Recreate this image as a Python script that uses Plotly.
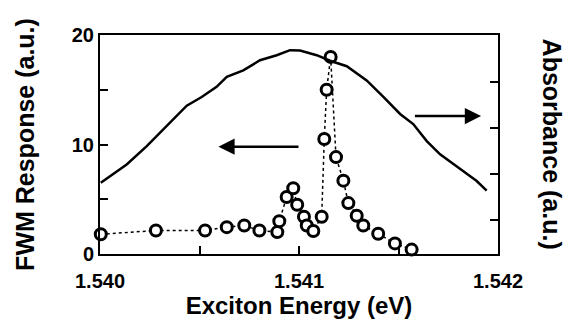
import plotly.graph_objects as go

# FWM response data (eV, a.u.)
fwm_energy = [1.540004, 1.540281, 1.540528, 1.540637, 1.540725, 1.540801, 1.540891,
              1.540901, 1.540938, 1.540971, 1.540991, 1.541025, 1.541039, 1.541072,
              1.541114, 1.541127, 1.541139, 1.541159, 1.541186, 1.541223, 1.541248,
              1.541290, 1.541323, 1.541398, 1.541482, 1.541566]
fwm_value = [1.8, 2.15, 2.15, 2.45, 2.6, 2.15, 2.0,
             3.0, 5.2, 6.0, 4.5, 3.4, 2.6, 2.1,
             3.4, 10.5, 15.0, 18.0, 8.85, 6.7, 4.65,
             3.5, 2.6, 1.85, 0.97, 0.4]

# Absorbance curve (eV, a.u.)
abs_energy = [1.540004, 1.540134, 1.540235, 1.540352, 1.540436, 1.540511, 1.540586,
              1.540637, 1.540720, 1.540804, 1.540888, 1.540955, 1.541005, 1.541089,
              1.541156, 1.541240, 1.541340, 1.541424, 1.541508, 1.541574, 1.541642,
              1.541709, 1.541759, 1.541826, 1.541893, 1.541943]
abs_value = [1.80, 2.20, 2.60, 3.12, 3.48, 3.67, 3.89,
             4.11, 4.25, 4.47, 4.58, 4.69, 4.68, 4.58,
             4.46, 4.34, 4.03, 3.67, 3.30, 3.08, 2.71,
             2.42, 2.27, 2.05, 1.84, 1.63]

x_tickvals = [1.540, 1.5405, 1.541, 1.5415, 1.542]
x_ticktext = ["1.540", "", "1.541", "", "1.542"]
y_tickvals = [0, 5, 10, 15, 20]
y_ticktext = ["0", "", "10", "", "20"]
y2_tickvals = [1, 2, 3, 4]

FONT = "Liberation Sans, Arial, sans-serif"

fig = go.Figure()
fig.add_trace(go.Scatter(
    x=abs_energy, y=abs_value, mode="lines", yaxis="y2",
    line=dict(color="black", width=2.5), showlegend=False))
fig.add_trace(go.Scatter(
    x=fwm_energy, y=fwm_value, mode="lines+markers",
    line=dict(color="black", width=1.5, dash="dot"),
    marker=dict(symbol="circle", size=11, color="white",
                line=dict(color="black", width=3)),
    showlegend=False, cliponaxis=False))

fig.update_layout(
    width=568, height=331,
    margin=dict(l=100, r=70, t=35, b=77),
    paper_bgcolor="white", plot_bgcolor="white",
    font=dict(family=FONT, color="black"),
    xaxis=dict(range=[1.540, 1.542], tickvals=x_tickvals, ticktext=x_ticktext,
               ticks="inside", ticklen=8, tickwidth=2, tickcolor="black",
               showline=True, linecolor="black", linewidth=2, mirror=True,
               showgrid=False, zeroline=False, ticklabelstandoff=8,
               tickfont=dict(size=20, family=FONT, weight="bold"),
               title=dict(text="<b>Exciton Energy (eV)</b>", font=dict(size=24), standoff=2)),
    yaxis=dict(range=[0, 20], tickvals=y_tickvals, ticktext=y_ticktext,
               ticks="inside", ticklen=8, tickwidth=2, tickcolor="black",
               showline=True, linecolor="black", linewidth=2,
               showgrid=False, zeroline=False,
               tickfont=dict(size=20, family=FONT, weight="bold"),
               title=dict(text="<b>FWM Response (a.u.)</b>", font=dict(size=25), standoff=30)),
    yaxis2=dict(range=[0.25, 5.02], tickvals=y2_tickvals, showticklabels=False,
                overlaying="y", side="right",
                ticks="inside", ticklen=8, tickwidth=2, tickcolor="black",
                showline=True, linecolor="black", linewidth=2,
                showgrid=False, zeroline=False),
)

# Right axis title reading top to bottom
fig.add_annotation(text="<b>Absorbance (a.u.)</b>", xref="paper", yref="paper",
                   x=1.138, y=0.5, xanchor="center", yanchor="middle",
                   textangle=90, showarrow=False,
                   font=dict(size=25, family=FONT, color="black"))

# Arrows
fig.add_annotation(x=1.540595, y=9.8, ax=1.541005, ay=9.8, xref="x", yref="y",
                   axref="x", ayref="y", text="", showarrow=True,
                   arrowhead=2, arrowsize=1.3, arrowwidth=2.5, arrowcolor="black")
fig.add_annotation(x=1.541915, y=12.6, ax=1.541575, ay=12.6, xref="x", yref="y",
                   axref="x", ayref="y", text="", showarrow=True,
                   arrowhead=2, arrowsize=1.3, arrowwidth=2.5, arrowcolor="black")

fig.write_html("out.html")
